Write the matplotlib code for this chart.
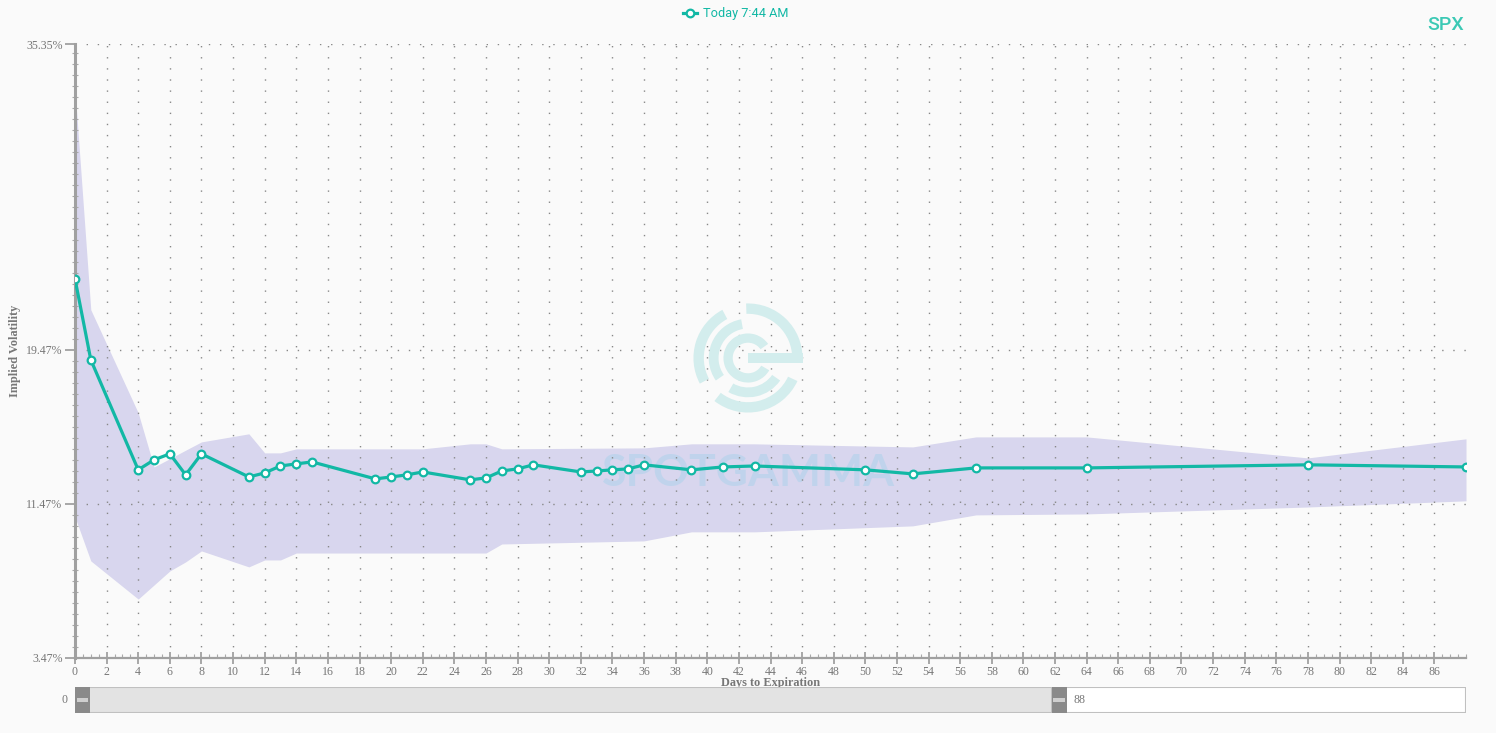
import numpy as np
import matplotlib
matplotlib.use("Agg")
import matplotlib.pyplot as plt
from matplotlib.patches import Wedge, Rectangle

# term structure
days = [0, 1, 4, 5, 6, 7, 8, 11, 12, 13, 14, 15, 19, 20, 21, 22, 25, 26, 27, 28,
        29, 32, 33, 34, 35, 36, 39, 41, 43, 50, 53, 57, 64, 78, 88]
iv_today = [23.16, 18.95, 13.24, 13.76, 14.07, 12.98, 14.07, 12.87, 13.08, 13.44,
            13.55, 13.65, 12.77, 12.87, 12.98, 13.13, 12.72, 12.82, 13.18, 13.29,
            13.50, 13.13, 13.18, 13.24, 13.29, 13.50, 13.24, 13.39, 13.44, 13.24,
            13.03, 13.34, 13.34, 13.50, 13.39]

# historical range band
band_days = [0, 1, 4, 5, 6, 7, 8, 11, 12, 13, 14, 22, 25, 26, 27, 36, 39, 43, 53, 57, 64, 78, 88]
band_high = [33.0, 21.55, 16.20, 13.39, 13.82, 14.26, 14.69, 15.11, 14.12, 14.12, 14.33,
             14.33, 14.59, 14.59, 14.33, 14.38, 14.59, 14.59, 14.43, 14.95, 14.95, 13.86, 14.85]
band_low = [10.79, 8.51, 6.53, 7.26, 7.99, 8.46, 9.03, 8.20, 8.56, 8.56, 8.92,
            8.92, 8.92, 8.92, 9.39, 9.55, 10.02, 10.02, 10.33, 10.90, 10.95, 11.31, 11.63]

y_ticks = [3.47, 11.47, 19.47, 35.35]
x_max = 88
slider_end = 61.8

teal = "#12b8a5"
grey = "#777777"
bg = "#fafafa"

fig = plt.figure(figsize=(14.96, 7.33), dpi=100, facecolor=bg)
ax = fig.add_axes([75 / 1496, 1 - 658 / 733, (1466 - 75) / 1496, (658 - 44) / 733])
ax.set_facecolor(bg)

ax.fill_between(band_days, band_low, band_high, color="#d8d6ee", lw=0, zorder=0.2)
ax.plot(days, iv_today, color=teal, lw=2.3, marker="o", ms=5.5, mfc="white",
        mec=teal, mew=1.6, zorder=3, label="Today 7:44 AM")

ax.set_xlim(0, x_max)
ax.set_ylim(y_ticks[0], y_ticks[-1])
ax.set_xticks(np.arange(0, x_max, 2))
ax.set_xticks(np.arange(0, x_max + 0.1, 0.5), minor=True)
ax.set_yticks(y_ticks)
ax.set_yticklabels([f"{v:.2f}%" for v in y_ticks])
ax.set_yticks(np.arange(y_ticks[0], y_ticks[-1] + 0.01, 8 / 14), minor=True)

for lab in ax.get_xticklabels() + ax.get_yticklabels():
    lab.set_family("Liberation Serif")
    lab.set_fontsize(8.6)
    lab.set_color(grey)

ax.tick_params(axis="y", which="major", direction="out", length=7, width=1.2, color="#999999", pad=2)
ax.tick_params(axis="y", which="minor", direction="inout", length=4, width=0.8, color="#aaaaaa")
ax.tick_params(axis="x", which="major", direction="inout", length=8, width=1.2, color="#999999", pad=2)
ax.tick_params(axis="x", which="minor", direction="in", length=3, width=0.8, color="#aaaaaa")

for s in ["top", "right"]:
    ax.spines[s].set_visible(False)
ax.spines["left"].set_color("#a0a0a0")
ax.spines["left"].set_linewidth(2.2)
ax.spines["bottom"].set_color("#a0a0a0")
ax.spines["bottom"].set_linewidth(1.6)

ax.set_axisbelow(True)
ax.grid(axis="x", which="major", color="#888888", lw=1, linestyle=(0, (1, 7)))
ax.grid(axis="y", which="major", color="#888888", lw=1, linestyle=(0, (1, 7)))

ax.set_ylabel("Implied Volatility", family="Liberation Serif", fontsize=8.8,
              fontweight="bold", color=grey)
ax.yaxis.set_label_coords(-0.039, 0.5)
ax.set_xlabel("Days to Expiration", family="Liberation Serif", fontsize=8.8,
              fontweight="bold", color=grey, labelpad=-1)

leg = ax.legend(loc="lower center", bbox_to_anchor=(0.475, 1.02), frameon=False,
                handlelength=1.1, handletextpad=0.4, prop={"family": "Roboto", "size": 9.2})
for t in leg.get_texts():
    t.set_color(teal)

fig.text(1446 / 1496, 1 - 25 / 733, "SPX", ha="center", va="center", fontsize=14,
         family="Roboto", fontweight="medium", color="#3cc9b5")

# watermark
ax.text(42.6, 13.1, "SPOTGAMMA", ha="center", va="center", fontsize=32, family="Lato",
        fontweight="bold", color="#b6d3ec", alpha=0.7, zorder=0.4)
lax = fig.add_axes([(748 - 60) / 1496, 1 - (358 + 60) / 733, 120 / 1496, 120 / 733])
lax.set_xlim(-1.1, 1.1)
lax.set_ylim(-1.1, 1.1)
lax.set_aspect("equal")
lax.axis("off")
logo_col = "#d3eded"
for r, w, t1, t2 in [(1.0, 0.19, 0, 92), (1.0, 0.19, 118, 208), (1.0, 0.19, 232, 335),
                     (0.72, 0.18, 100, 215), (0.72, 0.18, 240, 325),
                     (0.45, 0.17, 35, 330)]:
    lax.add_patch(Wedge((0, 0), r, t1, t2, width=w, color=logo_col, lw=0))
lax.add_patch(Rectangle((0, -0.09), 1.0, 0.18, color=logo_col, lw=0))

# range slider
sax = fig.add_axes([75 / 1496, 1 - 713 / 733, (1466 - 75) / 1496, 26 / 733])
sax.set_xlim(0, x_max)
sax.set_ylim(0, 1)
sax.axis("off")
sax.add_patch(Rectangle((0, 0), x_max, 1, facecolor="white", edgecolor="#c0c0c0", lw=1.5))
sax.add_patch(Rectangle((0, 0), slider_end, 1, facecolor="#e3e3e3", edgecolor="#c0c0c0", lw=1.5))
hw = 0.95
for hx in [0, slider_end]:
    sax.add_patch(Rectangle((hx, 0), hw, 1, facecolor="#8a8a8a", lw=0))
    sax.add_patch(Rectangle((hx + 0.1, 0.43), hw - 0.2, 0.14, facecolor="#cfcfcf", lw=0))
sax.text(-0.5, 0.5, "0", ha="right", va="center", family="Liberation Serif", fontsize=8.6, color=grey)
sax.text(slider_end + hw + 0.4, 0.5, str(x_max), ha="left", va="center",
         family="Liberation Serif", fontsize=8.6, color=grey)

fig.savefig("out.png", dpi=100, facecolor=bg)
